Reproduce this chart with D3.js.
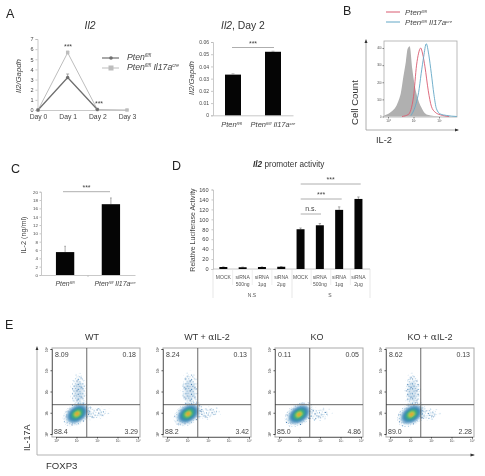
<!DOCTYPE html>
<html><head><meta charset="utf-8">
<script src="https://cdn.jsdelivr.net/npm/d3@7"></script>
<style>
html,body{margin:0;padding:0;background:#fff}
svg{display:block;filter:blur(0.5px)}
text{font-family:"Liberation Sans",Arial,sans-serif;fill:#333}
</style></head><body>
<svg id="c" width="485" height="476"></svg>
<script>
// Panel A line
const days=["Day 0","Day 1","Day 2","Day 3"];
const lineCtrl=[0,3.2,0.05,null];
const lineCtrlErr=[0,0.35,0.03,null];
const lineKO=[0,5.65,0.05,0];
const lineKOErr=[0,0.15,0.03,0];
// Panel A bars
const dayTwo=[0.0333,0.052];
const dayTwoErr=[0.0006,0.0004];
// Panel B histograms
const histGreyX=[-0.15,0,0.15,0.3,0.43,0.5,0.6,0.7,0.77,0.85,0.95,1.05,1.18,1.3,1.4,1.55,1.8,2.2];
const histGrey=[6,15,30,55,100,135,230,320,395,410,280,180,100,55,28,10,3,0];
const histRedX=[0.55,0.8,1.0,1.12,1.2,1.28,1.36,1.45,1.58,1.7,1.85,2.05,2.4];
const histRed=[0,12,115,300,370,400,365,290,150,60,25,10,0];
const histBlueX=[0.9,1.1,1.2,1.3,1.4,1.5,1.6,1.7,1.8,1.9,2.05,2.3,2.7];
const histBlue=[5,75,140,250,350,425,360,250,130,45,15,6,0];
// Panel C
const ilTwo=[5.5,17];
const ilTwoErr=[1.4,1.5];
// Panel D
const siLabels=[["MOCK"],["siRNA","500ng"],["siRNA","1µg"],["siRNA","2µg"],["MOCK"],["siRNA","500ng"],["siRNA","1µg"],["siRNA","2µg"]];
const luc=[4,3.5,4,4.5,80,88,119,141];
const lucErr=[0.4,0.4,0.4,0.4,2.5,3.5,6,4];
const groups=["N.S","S"];
// Panel E
const flowTitles=[["WT"],["WT + ","α","IL-2"],["KO"],["KO + ","α","IL-2"]];
const flowQuads=[["8.09","0.18","88.4","3.29"],["8.24","0.13","88.2","3.42"],["0.11","0.05","85.0","4.86"],["8.62","0.13","89.0","2.28"]];
const flowLeft=[52,163,275,386];
const flowCore=[[1.03,0.95],[1.03,0.95],[0.98,0.92],[1.05,0.92]];
const flowStreak=[[1.1,2.0,0.36,0.78],[1.1,2.05,0.38,0.82],null,[1.1,2.0,0.36,0.8]];
const flowTail=[[1.9,0.98,0.8,0.32],[1.9,0.98,0.8,0.32],[1.85,0.92,0.78,0.34],[1.85,0.92,0.66,0.3]];
const logTicks=[0,1,2,3,4];
const coreRamp=[[1,"#8db8d6"],[0.82,"#3f86b8"],[0.6,"#2f9f9a"],[0.42,"#5dbb63"],[0.26,"#e8d23c"],[0.13,"#e8662c"]];
// speckle tile for the flow dots
const speckDots=[[0.6,0.8,"#2f6ea8"],[3.4,0.3,"#8fbbd9"],[6.2,1.4,"#3f82b8"],[8.9,0.7,"#a9cbe2"],[1.9,3.1,"#9cc3de"],[4.8,2.9,"#2a6299"],[7.7,3.6,"#7fb2d6"],[0.4,5.6,"#4b8cbd"],[3.2,5.1,"#b6d2e6"],[6.1,6.2,"#2f6ea8"],[8.6,5.7,"#8fbbd9"],[2.0,7.8,"#3f82b8"],[4.6,8.3,"#a9cbe2"],[7.4,8.0,"#4b8cbd"],[9.4,8.9,"#2f6ea8"]];
const speckSparse=[[1.1,1.2,"#8fbbd9"],[6.4,2.6,"#b6d2e6"],[3.3,5.6,"#7fb2d6"],[8.9,6.9,"#a9cbe2"],[5.1,9.4,"#9cc3de"]];

const svg=d3.select("#c");
function txt(x,y,s,size,o={}){
  const t=svg.append("text").attr("x",x).attr("y",y).attr("font-size",size).attr("text-anchor",o.a||"start").text(s);
  if(o.i)t.attr("font-style","italic"); if(o.b)t.attr("font-weight","bold"); if(o.c)t.style("fill",o.c);
  if(o.r)t.attr("transform",`rotate(-90 ${x} ${y})`);
  return t;
}
function pten(x,y,size,ko,a){
  const t=svg.append("text").attr("x",x).attr("y",y).attr("font-size",size).attr("font-style","italic").attr("text-anchor",a||"start").style("fill","#444");
  t.append("tspan").text("Pten");
  t.append("tspan").attr("font-size",size*0.55).attr("dy",-size*0.3).text("fl/fl");
  if(ko){
    t.append("tspan").attr("dy",size*0.3).text(" Il17a");
    t.append("tspan").attr("font-size",size*0.55).attr("dy",-size*0.3).text("cre");
  }
}
function styleAxis(g,size,col){
  g.selectAll("path,line").attr("stroke",col||"#bbb").attr("stroke-width",0.8);
  g.selectAll("text").attr("font-size",size).style("fill","#444").attr("font-family","Liberation Sans");
}
function stars(x1,x2,y,s){
  svg.append("line").attr("x1",x1).attr("x2",x2).attr("y1",y).attr("y2",y).attr("stroke","#999").attr("stroke-width",0.8);
  txt((x1+x2)/2,y-(s==="n.s."?3:2),s||"***",7,{a:"middle",c:"#444"});
}
function err(x,y0,y1,w){
  svg.append("path").attr("d",`M${x},${y0}V${y1}M${x-w},${y1}H${x+w}`).attr("stroke","#888").attr("stroke-width",0.7).attr("fill","none");
}

// letters
[["A",6,18],["B",343,15],["C",11,173],["D",172,170],["E",5,329]].forEach(d=>txt(d[1],d[2],d[0],12.5,{c:"#222"}));

// ---- A line
{
  const x=d3.scalePoint().domain(days).range([38,127]);
  const y=d3.scaleLinear().domain([0,7]).range([110,39]);
  const gy=svg.append("g").attr("transform","translate(37.5,0)").call(d3.axisLeft(y).ticks(7).tickSize(2).tickPadding(2));
  styleAxis(gy,5.5);
  const gx=svg.append("g").attr("transform","translate(0,110)").call(d3.axisBottom(x).tickSize(0).tickPadding(4));
  styleAxis(gx,6.8);
  const ln=d3.line().defined(d=>d!=null).x((d,i)=>x(days[i])).y(d=>y(d));
  svg.append("path").attr("d",ln(lineKO)).attr("fill","none").attr("stroke","#bdbdbd").attr("stroke-width",1);
  svg.append("path").attr("d",ln(lineCtrl)).attr("fill","none").attr("stroke","#6f6f6f").attr("stroke-width",1.3);
  lineCtrl.forEach((v,i)=>{if(v==null)return;err(x(days[i]),y(v),y(v+lineCtrlErr[i]),1.5);});
  lineKO.forEach((v,i)=>{err(x(days[i]),y(v),y(v+lineKOErr[i]),1.5);
    svg.append("rect").attr("x",x(days[i])-1.7).attr("y",y(v)-1.7).attr("width",3.4).attr("height",3.4).attr("fill","#bdbdbd");});
  lineCtrl.forEach((v,i)=>{if(v==null)return;svg.append("circle").attr("cx",x(days[i])).attr("cy",y(v)).attr("r",1.7).attr("fill","#6f6f6f");});
  txt(68,49,"***",7,{a:"middle",c:"#444"});
  txt(99,106,"***",7,{a:"middle",c:"#444"});
  txt(21,76,"Il2/Gapdh",7.8,{a:"middle",i:1,r:1,c:"#444"});
  txt(90,29,"Il2",10.4,{a:"middle",i:1,c:"#333"});
  // legend
  svg.append("line").attr("x1",102).attr("x2",119).attr("y1",58).attr("y2",58).attr("stroke","#6f6f6f").attr("stroke-width",1.2);
  svg.append("circle").attr("cx",111).attr("cy",58).attr("r",1.8).attr("fill","#6f6f6f");
  svg.append("line").attr("x1",102).attr("x2",119).attr("y1",68).attr("y2",68).attr("stroke","#bdbdbd").attr("stroke-width",1);
  svg.append("rect").attr("x",108.5).attr("y",65.5).attr("width",5).attr("height",5).attr("fill","#bdbdbd");
  pten(127,60,8.7,false); pten(127,70,8.7,true);
}
// ---- A bars
{
  const names=["a","b"];
  const x=d3.scaleBand().domain(names).range([213,293]).paddingInner(0.6).paddingOuter(0.3);
  const y=d3.scaleLinear().domain([0,0.06]).range([115.3,42]);
  const gy=svg.append("g").attr("transform","translate(213,0)").call(d3.axisLeft(y).ticks(6).tickSize(2).tickPadding(2).tickFormat(d=>d===0?"0":d3.format(".2f")(d)));
  styleAxis(gy,5);
  const gx=svg.append("g").attr("transform","translate(0,115.3)").call(d3.axisBottom(x).tickSize(0).tickFormat(""));
  styleAxis(gx,5);
  dayTwo.forEach((v,i)=>{
    svg.append("rect").attr("x",x(names[i])).attr("width",x.bandwidth()).attr("y",y(v)).attr("height",y(0)-y(v)).attr("fill","#050505");
    err(x(names[i])+x.bandwidth()/2,y(v),y(v+dayTwoErr[i]),1.5);
  });
  stars(232,274,47.5,"***");
  txt(194,78,"Il2/Gapdh",7.8,{a:"middle",i:1,r:1,c:"#444"});
  pten(231.5,127,7.5,false,"middle"); pten(273,127,7.5,true,"middle");
  const t=txt(221,29,"",10.4,{c:"#333"});
  t.append("tspan").attr("font-style","italic").text("Il2");
  t.append("tspan").text(", Day 2");
}
// ---- B
{
  const x=d3.scaleLinear().domain([-0.157,2.706]).range([384,457]);
  const y=d3.scaleLinear().domain([0,400]).range([116.5,48]);
  svg.append("rect").attr("x",384).attr("y",41).attr("width",73).attr("height",76).attr("fill","none").attr("stroke","#aaa").attr("stroke-width",0.8);
  const area=d3.area().x(d=>x(d[0])).y0(y(0)).y1(d=>y(d[1])).curve(d3.curveMonotoneX);
  const line=d3.line().x(d=>x(d[0])).y(d=>y(d[1])).curve(d3.curveMonotoneX);
  svg.append("path").attr("d",area(histGreyX.map((v,i)=>[v,histGrey[i]]))).attr("fill","#b0b0b0");
  svg.append("path").attr("d",line(histRedX.map((v,i)=>[v,histRed[i]]))).attr("fill","none").attr("stroke","#d95b70").attr("stroke-width",0.9);
  svg.append("path").attr("d",line(histBlueX.map((v,i)=>[v,histBlue[i]]))).attr("fill","none").attr("stroke","#63a7c6").attr("stroke-width",0.9);
  const gy=svg.append("g").attr("transform","translate(384,0)").call(d3.axisLeft(y).tickValues([0,100,200,300,400]).tickSize(1.5).tickPadding(1));
  styleAxis(gy,2.6,"#666"); gy.select(".domain").remove();
  const gx=svg.append("g").attr("transform","translate(0,117)").call(d3.axisBottom(x).tickValues([0,1,2]).tickSize(1.5).tickPadding(1).tickFormat(d=>"10"+"⁰¹²"[d]));
  styleAxis(gx,3,"#666"); gx.select(".domain").remove();
  svg.append("path").attr("d","M366,42V130H458").attr("fill","none").attr("stroke","#999").attr("stroke-width",0.8);
  svg.append("path").attr("d","M366,39l-1.5,4h3zM459,130l-4,-1.4v2.8z").attr("fill","#333");
  txt(358,125,"Cell Count",9.6,{r:1,c:"#333"});
  txt(376,143,"IL-2",9.3,{c:"#333"});
  svg.append("line").attr("x1",386).attr("x2",400).attr("y1",12).attr("y2",12).attr("stroke","#d95b70").attr("stroke-width",1);
  svg.append("line").attr("x1",386).attr("x2",400).attr("y1",22).attr("y2",22).attr("stroke","#63a7c6").attr("stroke-width",1);
  pten(405,15,7.9,false); pten(405,25,7.9,true);
}
// ---- C
{
  const names=["a","b"];
  const x=d3.scaleBand().domain(names).range([41,135]).paddingInner(0.6).paddingOuter(0.326);
  const y=d3.scaleLinear().domain([0,20]).range([275,191.7]);
  const gy=svg.append("g").attr("transform","translate(41,0)").call(d3.axisLeft(y).ticks(10).tickSize(1.5).tickPadding(1.5));
  styleAxis(gy,4.4);
  const gx=svg.append("g").attr("transform","translate(0,275)").call(d3.axisBottom(x).tickSize(0).tickFormat(""));
  styleAxis(gx,4);
  ilTwo.forEach((v,i)=>{
    err(x(names[i])+x.bandwidth()/2,y(v),y(v+ilTwoErr[i]),0.8);
    svg.append("rect").attr("x",x(names[i])).attr("width",x.bandwidth()).attr("y",y(v)).attr("height",y(0)-y(v)).attr("fill","#050505");
  });
  svg.append("line").attr("x1",88).attr("x2",88).attr("y1",275).attr("y2",277).attr("stroke","#bbb").attr("stroke-width",.8);
  stars(63,110,191.7,"***");
  txt(26,235,"IL-2 (ng/ml)",7.2,{a:"middle",r:1,c:"#444"});
  pten(65,286,6.9,false,"middle"); pten(115,286,6.9,true,"middle");
}
// ---- D
{
  const idx=d3.range(8);
  const x=d3.scaleBand().domain(idx).range([213.7,368.1]).paddingInner(0.586).paddingOuter(0.293);
  const y=d3.scaleLinear().domain([0,160]).range([269,189.5]);
  const gy=svg.append("g").attr("transform","translate(213,0)").call(d3.axisLeft(y).ticks(8).tickSize(1.5).tickPadding(3));
  styleAxis(gy,5.6);
  svg.append("line").attr("x1",213).attr("x2",370).attr("y1",269).attr("y2",269).attr("stroke","#bbb").attr("stroke-width",.8);
  luc.forEach((v,i)=>{
    const cx=x(i)+x.bandwidth()/2;
    err(cx,y(v),y(v+lucErr[i]),1.2);
    svg.append("rect").attr("x",x(i)).attr("width",x.bandwidth()).attr("y",y(v)).attr("height",y(0)-y(v)).attr("fill","#050505");
    siLabels[i].forEach((s,j)=>txt(cx,279+j*7.2,s,5,{a:"middle",c:"#555"}));
  });
  [213,292,370].forEach(p=>svg.append("line").attr("x1",p).attr("x2",p).attr("y1",269).attr("y2",298).attr("stroke","#ddd").attr("stroke-width",.7));
  idx.forEach(i=>{if(i&&i!==4)svg.append("line").attr("x1",213+i*157/8).attr("x2",213+i*157/8).attr("y1",269).attr("y2",285).attr("stroke","#e4e4e4").attr("stroke-width",.6);});
  txt(252,297,groups[0],5,{a:"middle",c:"#555"});
  txt(330,297,groups[1],5,{a:"middle",c:"#555"});
  stars(300.7,321,214,"n.s.");
  stars(300.7,341.7,199,"***");
  stars(300.7,360.7,184,"***");
  txt(195,230,"Relative Luciferase Activity",7,{a:"middle",r:1,c:"#444"});
  const t=txt(253,167,"",8.2,{c:"#333"});
  t.append("tspan").attr("font-style","italic").attr("font-weight","bold").text("Il2");
  t.append("tspan").text(" promoter activity");
}
// ---- E
{
  const defs=svg.append("defs");
  const pat=defs.append("pattern").attr("id","st").attr("width",10.3).attr("height",9.7).attr("patternUnits","userSpaceOnUse");
  speckDots.forEach(p=>pat.append("circle").attr("cx",p[0]).attr("cy",p[1]).attr("r",0.6).attr("fill",p[2]));
  const patL=defs.append("pattern").attr("id","stL").attr("width",10.7).attr("height",10.1).attr("patternUnits","userSpaceOnUse");
  speckSparse.forEach(p=>patL.append("circle").attr("cx",p[0]).attr("cy",p[1]).attr("r",0.55).attr("fill",p[2]));
  defs.append("filter").attr("id","sm").append("feGaussianBlur").attr("stdDeviation",0.9);

  flowLeft.forEach((L,k)=>{
    const W=88,top=348,bot=437;
    const x=d3.scaleLinear().domain([0,4]).range([L+4,L+86]);
    const y=d3.scaleLinear().domain([0,4]).range([434,349]);
    const tl=flowTail[k];
    const ell=(c,fill,sc)=>svg.append("ellipse").attr("cx",x(c[0])).attr("cy",y(c[1]))
      .attr("rx",(x(c[2])-x(0))*sc).attr("ry",(y(0)-y(c[3]))*sc).attr("fill",fill);
    ell(tl,"url(#stL)",1).attr("transform",`rotate(-8 ${x(tl[0])} ${y(tl[1])})`);
    ell(tl,"url(#st)",0.7).attr("transform",`rotate(-8 ${x(tl[0])} ${y(tl[1])})`);
    const s=flowStreak[k];
    if(s){ ell(s,"url(#stL)",1.15); ell(s,"url(#st)",0.95); ell(s,"#3f82b8",0.62).attr("opacity",0.22).attr("filter","url(#sm)"); }
    const c=flowCore[k];
    const cx=x(c[0]),cy=y(c[1]);
    svg.append("ellipse").attr("cx",cx).attr("cy",cy).attr("rx",16).attr("ry",10.5).attr("fill","url(#st)").attr("transform",`rotate(-35 ${cx} ${cy})`);
    coreRamp.forEach(r=>{
      svg.append("ellipse").attr("cx",cx).attr("cy",cy).attr("rx",12*r[0]).attr("ry",8*r[0]).attr("fill",r[1]).attr("filter","url(#sm)").attr("transform",`rotate(-35 ${cx} ${cy})`);
    });
    svg.append("rect").attr("x",L).attr("y",top).attr("width",W).attr("height",bot-top).attr("fill","none").attr("stroke","#aaa").attr("stroke-width",1);
    const gx=x(1.5),gy=y(1.38);
    svg.append("line").attr("x1",gx).attr("x2",gx).attr("y1",top).attr("y2",bot).attr("stroke","#444").attr("stroke-width",0.8);
    svg.append("line").attr("x1",L).attr("x2",L+W).attr("y1",gy).attr("y2",gy).attr("stroke","#666").attr("stroke-width",1);
    const gX=svg.append("g").attr("transform",`translate(0,${bot})`).call(d3.axisBottom(x).tickValues(logTicks).tickSize(1.5).tickPadding(1).tickFormat(d=>"10"+"⁰¹²³⁴"[d]));
    styleAxis(gX,3.2,"#333"); gX.select(".domain").attr("stroke","#333").attr("stroke-width",.6);
    const gY=svg.append("g").attr("transform",`translate(${L},0)`).call(d3.axisLeft(y).tickValues(logTicks).tickSize(1.5).tickPadding(1).tickFormat(d=>"10"+"⁰¹²³⁴"[d]));
    styleAxis(gY,3.2,"#333"); gY.select(".domain").attr("stroke","#333").attr("stroke-width",.6);
    gY.selectAll("text").attr("transform","rotate(-90 -4 0)").attr("x",-4).attr("dy",0).attr("text-anchor","middle");
    const q=flowQuads[k];
    txt(L+3,357,q[0],7,{c:"#444"});
    txt(L+W-4,357,q[1],7,{a:"end",c:"#444"});
    txt(L+2,434,q[2],7,{c:"#444"});
    txt(L+W-2,434,q[3],7,{a:"end",c:"#444"});
    const ft=flowTitles[k];
    const t=txt(L+W/2-(k===0?4:k===2?2:0),340,"",9,{a:"middle",c:"#333"});
    ft.forEach(p=>{const ts=t.append("tspan").text(p); if(p==="α")ts.attr("font-family","DejaVu Serif");});
  });
  svg.append("path").attr("d","M37,349V455H474").attr("fill","none").attr("stroke","#aaa").attr("stroke-width",0.9);
  svg.append("path").attr("d","M37,346l-1.4,4h2.8zM475,455l-4.5,-1.4v2.8z").attr("fill","#333");
  txt(30,451,"IL-17A",9,{r:1,c:"#333"});
  txt(46,469,"FOXP3",9.6,{c:"#333"});
}
</script>
</body></html>
